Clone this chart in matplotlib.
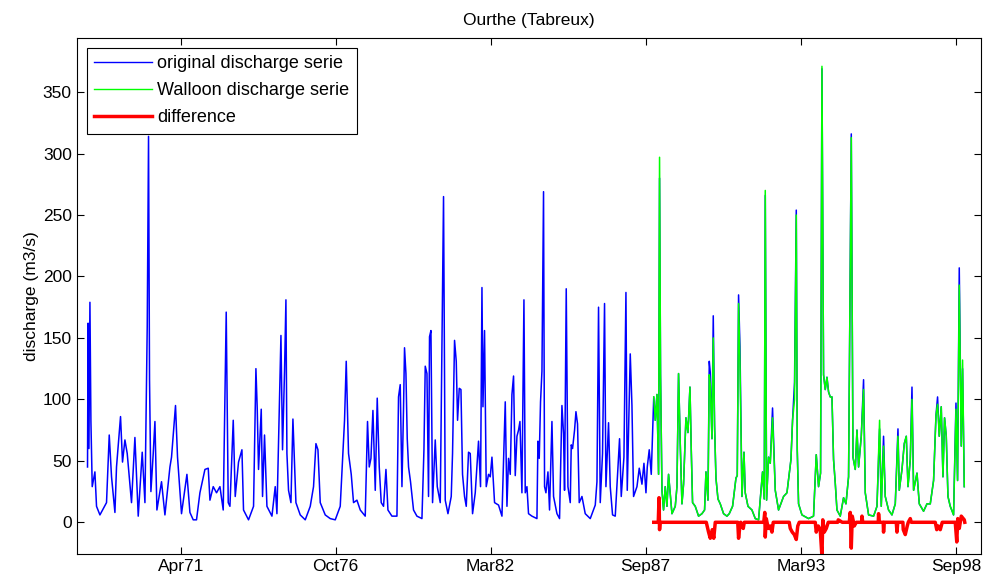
import matplotlib
matplotlib.use("Agg")
import matplotlib.pyplot as plt
import matplotlib.dates as mdates
import numpy as np

plt.rcParams["font.family"] = ["Liberation Sans", "DejaVu Sans"]

# original discharge serie (m3/s); time in years since 1 Jan 1968
orig_t = [
    0.000, 0.020, 0.050, 0.085, 0.120, 0.166, 0.261, 0.318, 0.438, 0.671, 0.767, 0.848, 0.968,
    1.024, 1.166, 1.236, 1.321, 1.402, 1.554, 1.674, 1.791, 1.932, 2.028, 2.109, 2.155, 2.190,
    2.239, 2.321, 2.381, 2.451, 2.614, 2.734, 2.911, 2.967, 3.108, 3.179, 3.320, 3.511, 3.617,
    3.734, 3.850, 3.970, 4.147, 4.264, 4.324, 4.440, 4.557, 4.677, 4.793, 4.899, 4.970, 5.030,
    5.147, 5.217, 5.334, 5.454, 5.510, 5.687, 5.864, 5.948, 5.994, 6.040, 6.136, 6.182, 6.252,
    6.337, 6.514, 6.630, 6.690, 6.832, 6.888, 6.959, 7.008, 7.043, 7.100, 7.185, 7.255, 7.312,
    7.361, 7.513, 7.690, 7.867, 7.983, 8.068, 8.139, 8.220, 8.396, 8.573, 8.750, 8.926, 9.078,
    9.138, 9.219, 9.315, 9.396, 9.516, 9.633, 9.809, 9.890, 9.951, 10.011, 10.081, 10.163,
    10.233, 10.304, 10.374, 10.456, 10.541, 10.611, 10.752, 10.929, 10.985, 11.045, 11.106,
    11.162, 11.197, 11.247, 11.293, 11.339, 11.409, 11.515, 11.635, 11.812, 11.883, 11.929,
    11.989, 12.045, 12.080, 12.130, 12.187, 12.282, 12.353, 12.459, 12.519, 12.575, 12.635,
    12.731, 12.847, 12.893, 12.964, 13.024, 13.070, 13.130, 13.190, 13.246, 13.317, 13.377,
    13.458, 13.518, 13.600, 13.695, 13.811, 13.882, 13.932, 13.967, 14.023, 14.083, 14.165,
    14.225, 14.285, 14.377, 14.518, 14.638, 14.755, 14.815, 14.871, 14.931, 14.991, 15.048,
    15.108, 15.168, 15.224, 15.274, 15.344, 15.415, 15.461, 15.521, 15.577, 15.697, 15.874,
    15.909, 15.955, 16.001, 16.051, 16.107, 16.143, 16.192, 16.263, 16.319, 16.404, 16.461,
    16.581, 16.673, 16.757, 16.814, 16.849, 16.909, 16.969, 17.051, 17.086, 17.132, 17.203,
    17.252, 17.308, 17.368, 17.464, 17.580, 17.757, 17.934, 17.994, 18.050, 18.110, 18.191,
    18.262, 18.311, 18.403, 18.463, 18.545, 18.640, 18.792, 18.852, 18.947, 19.018, 19.064,
    19.170, 19.230, 19.287, 19.407, 19.488, 19.583, 19.654, 19.725, 19.771, 19.841, 19.912,
]
orig_q = [
    45, 162, 60, 179, 82, 29, 41, 13, 6, 16, 71, 37, 8,
    45, 86, 49, 67, 56, 16, 69, 5, 57, 16, 159, 314, 116,
    25, 56, 82, 10, 33, 6, 45, 53, 95, 53, 7, 39, 8,
    2, 2, 24, 43, 44, 18, 29, 24, 29, 10, 171, 16, 13,
    83, 21, 49, 59, 10, 2, 13, 125, 93, 43, 92, 21, 71,
    13, 5, 29, 7, 152, 59, 123, 181, 56, 26, 16, 84, 48,
    16, 6, 2, 13, 29, 64, 59, 16, 6, 3, 2, 13, 83,
    131, 56, 39, 16, 18, 10, 5, 82, 45, 52, 91, 26,
    101, 45, 16, 13, 43, 10, 5, 5, 102, 112, 29,
    93, 142, 121, 68, 45, 33, 10, 5, 3, 59, 127,
    121, 21, 151, 156, 16, 67, 29, 16, 142, 265, 18,
    7, 21, 56, 148, 131, 83, 109, 108, 39, 21, 13,
    57, 56, 7, 24, 66, 29, 191, 94, 156, 29, 39,
    37, 53, 16, 14, 5, 98, 13, 52, 39, 104, 119,
    38, 70, 75, 82, 24, 181, 24, 29, 7, 5, 3,
    66, 52, 98, 123, 269, 29, 24, 41, 10, 82, 21,
    7, 3, 95, 72, 26, 190, 29, 16, 63, 60, 75,
    90, 80, 16, 21, 7, 3, 14, 33, 175, 16, 56,
    178, 29, 81, 29, 6, 5, 68, 21, 53, 187, 26,
    137, 95, 21, 29, 44, 31, 48, 24, 45, 59, 39,
]

# 1988-1998: both series on the same dates
wall_t = [
    20.000, 20.053, 20.113, 20.170, 20.205, 20.240, 20.290, 20.346, 20.406, 20.466, 20.523,
    20.643, 20.760, 20.820, 20.876, 20.936, 20.996, 21.053, 21.137, 21.208, 21.279, 21.325,
    21.371, 21.466, 21.583, 21.703, 21.795, 21.844, 21.915, 21.961, 21.996, 22.056, 22.102,
    22.148, 22.197, 22.268, 22.349, 22.466, 22.586, 22.667, 22.784, 22.904, 22.950, 22.996,
    23.045, 23.116, 23.187, 23.232, 23.328, 23.469, 23.586, 23.702, 23.843, 23.903, 23.939,
    23.985, 24.055, 24.115, 24.196, 24.292, 24.408, 24.585, 24.705, 24.846, 24.903, 24.973,
    25.034, 25.069, 25.115, 25.235, 25.468, 25.644, 25.740, 25.821, 25.892, 25.941, 25.998,
    26.058, 26.118, 26.175, 26.235, 26.295, 26.351, 26.411, 26.471, 26.588, 26.704, 26.789,
    26.881, 26.977, 27.037, 27.118, 27.178, 27.235, 27.330, 27.411, 27.471, 27.588, 27.765,
    27.885, 27.977, 28.036, 28.117, 28.177, 28.294, 28.414, 28.531, 28.626, 28.672, 28.768,
    28.849, 28.920, 28.980, 29.061, 29.121, 29.178, 29.298, 29.379, 29.530, 29.651, 29.767,
    29.884, 29.969, 30.025, 30.085, 30.155, 30.215, 30.272, 30.332, 30.392, 30.473, 30.590,
    30.675, 30.731, 30.791, 30.862, 30.908, 30.968,
]
orig_q_late = [
    102, 83, 104, 39, 280, 120, 26, 10, 29, 13, 39,
    7, 13, 29, 121, 64, 15, 31, 85, 73, 110, 59,
    16, 13, 5, 7, 10, 41, 18, 131, 122, 68, 168,
    79, 36, 19, 15, 7, 5, 7, 13, 36, 38, 185,
    143, 21, 57, 24, 13, 10, 3, 2, 41, 19, 266,
    18, 53, 48, 93, 26, 10, 21, 24, 51, 83, 114,
    254, 59, 15, 6, 3, 5, 55, 29, 40, 369, 120,
    108, 118, 106, 102, 102, 51, 32, 10, 5, 20, 15,
    37, 316, 53, 43, 75, 45, 70, 116, 24, 6, 5,
    13, 76, 13, 70, 21, 10, 6, 15, 76, 26, 43,
    64, 70, 29, 51, 110, 26, 40, 15, 9, 15, 15,
    34, 87, 102, 70, 94, 37, 85, 70, 21, 13, 6,
    97, 34, 207, 62, 125, 29,
]
wall_q = [
    102, 83, 104, 39, 297, 120, 26, 10, 29, 13, 39,
    7, 13, 29, 121, 64, 15, 31, 85, 73, 110, 59,
    16, 13, 5, 7, 10, 41, 18, 120, 112, 68, 150,
    79, 36, 19, 15, 7, 5, 7, 13, 36, 38, 178,
    130, 21, 57, 24, 13, 10, 3, 2, 41, 19, 270,
    18, 53, 48, 85, 26, 10, 21, 24, 51, 83, 100,
    250, 59, 15, 6, 3, 5, 55, 29, 40, 371, 120,
    108, 118, 106, 102, 102, 51, 32, 10, 5, 20, 15,
    37, 313, 53, 43, 75, 45, 70, 108, 24, 6, 5,
    13, 83, 13, 62, 21, 10, 6, 15, 70, 26, 43,
    64, 70, 29, 51, 100, 26, 40, 15, 9, 15, 15,
    34, 87, 96, 70, 94, 37, 85, 70, 21, 13, 6,
    92, 34, 193, 62, 132, 29,
]

# difference (Walloon - original)
diff_t = [
    20.000, 20.159, 20.187, 20.205, 20.223, 21.855, 21.936, 21.996, 22.067, 22.120, 22.173,
    22.967, 22.996, 23.038, 23.073, 23.162, 23.197, 23.886, 23.921, 23.939, 23.974, 24.045,
    24.115, 24.175, 24.221, 24.786, 24.822, 24.892, 24.963, 25.034, 25.087, 25.140, 25.705,
    25.740, 25.811, 25.881, 25.941, 25.970, 26.023, 26.094, 26.164, 26.500, 26.517, 26.658,
    26.906, 26.941, 26.977, 27.012, 27.083, 27.153, 27.345, 27.354, 27.383, 27.930, 27.941,
    27.966, 28.105, 28.117, 28.142, 28.566, 28.591, 28.619, 28.800, 28.813, 28.884, 28.954,
    28.990, 29.061, 29.096, 29.943, 29.996, 30.049, 30.120, 30.190, 30.650, 30.703, 30.738,
    30.791, 30.862, 30.932, 30.968, 30.985,
]
diff_q = [
    0, 0, 20, -6, 0, 0, -8, -13, -6, -13, 0,
    0, -13, -4, 0, -5, 0, 0, 8, -12, 3, -5,
    -3, -8, 0, 0, -5, -8, -10, -14, -3, 0, 0,
    -8, -3, -6, -28, 2, -8, -5, 0, 0, 2, 0,
    0, 8, -21, 5, -3, 0, 0, 5, 0, 0, 7,
    0, 0, -8, 0, 0, -8, 0, 0, -6, -10, -3,
    0, 3, 0, 0, -6, -3, -6, 0, 0, -16, 3,
    -5, 5, 3, 2, 0,
]

tick_dates = ["1971-04-17", "1976-10-07", "1982-03-29", "1987-09-19", "1993-03-12", "1998-09-02"]


def to_dates(years):
    hours = np.round(np.asarray(years) * 365.25 * 24).astype("timedelta64[h]")
    return np.datetime64("1968-01-01T00") + hours


fig = plt.figure(figsize=(9.88, 5.85), dpi=100)
ax = fig.add_axes([0.0776, 0.053, 0.9154, 0.8826])

ax.plot(to_dates(orig_t + wall_t), orig_q + orig_q_late, color=(0, 0, 1), lw=1.1,
        label="original discharge serie")
ax.plot(to_dates(wall_t), wall_q, color=(0, 1, 0), lw=1.1, label="Walloon discharge serie")
ax.plot(to_dates(diff_t), diff_q, color=(1, 0, 0), lw=2.5, label="difference")

ax.set_xlim(np.datetime64("1967-08-14"), np.datetime64("1999-07-25"))
ax.set_ylim(-25.8, 394.3)
ax.set_xticks(np.array(tick_dates, dtype="datetime64[D]"))
ax.xaxis.set_major_formatter(mdates.DateFormatter("%b%y"))
ax.set_yticks(np.arange(0, 351, 50))
ax.tick_params(direction="in", top=True, right=True, length=5, labelsize=12.5, width=0.8)
for s in ax.spines.values():
    s.set_linewidth(0.8)

ax.set_title("Ourthe (Tabreux)", fontsize=12.5, pad=9)
ax.set_ylabel("discharge (m3/s)", fontsize=12.5, labelpad=2.5)

leg = ax.legend(loc="upper left", fontsize=13, frameon=True, fancybox=False,
                edgecolor="black", framealpha=1, borderaxespad=0.55, handlelength=3.2,
                handletextpad=0.3, labelspacing=0.55, borderpad=0.42)
leg.get_frame().set_linewidth(0.8)
leg.legend_handles[0].set_linewidth(1.0)
leg.legend_handles[1].set_linewidth(1.0)

fig.savefig("out.png", dpi=100)
